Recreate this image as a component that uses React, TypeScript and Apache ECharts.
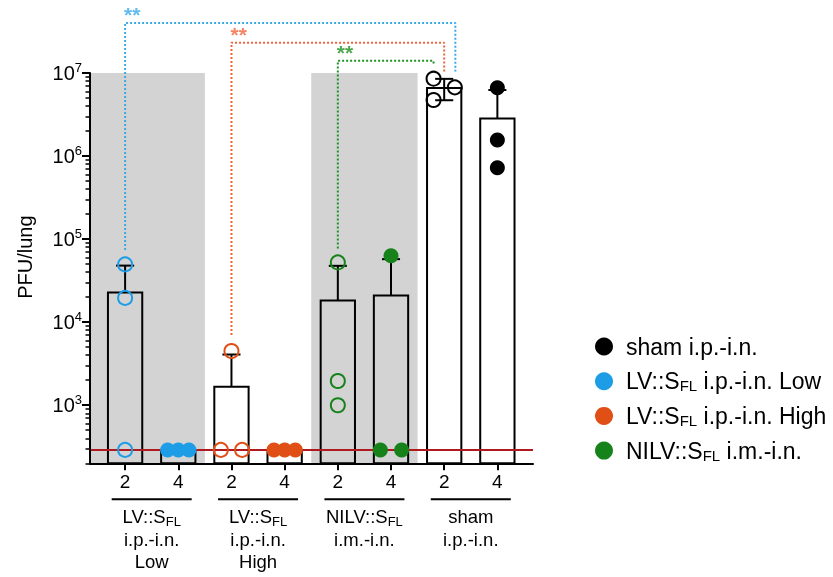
import React, { useEffect, useRef } from "react";
import * as echarts from "echarts";

const FONT = "'Liberation Sans', Arial, Helvetica, sans-serif";

// ---- data ----
const DAY_LABELS = ["2", "4", "2", "4", "2", "4", "2", "4"];
const GROUP_NAMES = [
  "LV::S_FL i.p.-i.n. Low",
  "LV::S_FL i.p.-i.n. High",
  "NILV::S_FL i.m.-i.n.",
  "sham i.p.-i.n.",
];
const GROUP_AXIS_LINES = [
  ["LV::S_FL", "i.p.-i.n.", "Low"],
  ["LV::S_FL", "i.p.-i.n.", "High"],
  ["NILV::S_FL", "i.m.-i.n."],
  ["sham", "i.p.-i.n."],
];
const LEGEND_ORDER = [3, 0, 1, 2];
const GROUP_COLORS = ["#1c9de6", "#e04f16", "#16821a", "#000000"];

const BAR_MEAN = [22800, 290, 1670, 290, 18200, 20900, 6600000, 2840000];
const BAR_SD = [25200, 0, 2410, 0, 29500, 36500, 1900000, 3400000];

const POINTS = [
  [49600, 19600, 290],
  [290, 290, 290],
  [4500, 290, 290],
  [290, 290, 290],
  [52400, 1960, 1000],
  [62900, 290, 290],
  [8540000, 6720000, 4730000],
  [6650000, 1560000, 723000],
];
const JITTER_SLOTS = [
  [0, 0, 0],
  [-1, 0, 1],
  [0, -1, 1],
  [-1, 0, 1],
  [0, 0, 0],
  [0, -1, 1],
  [-1, 1, -1],
  [0, 0, 0],
];
const LOD = 290;

const Y_MAJOR = [1e3, 1e4, 1e5, 1e6, 1e7];
const Y_MIN = 200;
const Y_MAX = 1e7;
const X_MIN = -0.66;
const X_MAX = 7.67;
const SHADED = [
  [X_MIN, 1.5],
  [3.5, 5.5],
];

const SIG = [
  { label: "**", color: "#3aaae9", from: 0, fromValue: 74000, to: 6.21, toValue: 1.04e7, top: 4.0e7 },
  { label: "**", color: "#f0643c", from: 2, fromValue: 7000, to: 6.0, toValue: 1.04e7, top: 2.32e7 },
  { label: "**", color: "#1f9222", from: 4, fromValue: 77000, to: 5.8, toValue: 1.25e7, top: 1.4e7 },
];

// ---- layout/style constants ----
const JIT = 0.2;
const BAR_W = 0.645;
const CAP_W = 0.34;

function minorTicks(): number[] {
  const out: number[] = [];
  for (let e = 2; e < 7; e++) {
    for (let m = 2; m <= 9; m++) {
      const v = m * Math.pow(10, e);
      if (v >= Y_MIN && v <= Y_MAX) out.push(v);
    }
  }
  return out;
}

function richName(s: string) {
  return s.replace("S_FL", "S{sub|FL}");
}

export default function App() {
  const ref = useRef<HTMLDivElement>(null);
  useEffect(() => {
    if (!ref.current) return;
    const chart = echarts.init(ref.current, undefined, { renderer: "svg" });

    const scatterSeries = GROUP_NAMES.map((name, g) => {
      const data: any[] = [];
      [2 * g, 2 * g + 1].forEach((bar) => {
        const open = bar % 2 === 0;
        POINTS[bar].forEach((v, k) => {
          data.push({
            value: [bar + JITTER_SLOTS[bar][k] * JIT, v],
            symbolSize: open ? 14 : 15,
            itemStyle: open
              ? { color: "transparent", borderColor: GROUP_COLORS[g], borderWidth: 2, opacity: 1 }
              : { color: GROUP_COLORS[g], borderWidth: 0, opacity: 1 },
          });
        });
      });
      return {
        type: "scatter",
        name,
        data,
        symbol: "circle",
        itemStyle: { color: GROUP_COLORS[g], opacity: 1 },
        z: 5,
        clip: false,
        silent: true,
      };
    });

    const option: any = {
      animation: false,
      grid: { left: 90, right: 300, top: 73, bottom: 113.7, containLabel: false, outerBoundsMode: "none" },
      legend: {
        data: LEGEND_ORDER.map((i) => GROUP_NAMES[i]),
        orient: "vertical",
        left: 595,
        top: 334.5,
        padding: 0,
        itemWidth: 18,
        itemHeight: 18,
        itemGap: 10.7,
        icon: "circle",
        selectedMode: false,
        itemStyle: { opacity: 1 },
        formatter: (name: string) => richName(name),
        textStyle: {
          fontSize: 23,
          fontFamily: FONT,
          color: "#000",
          lineHeight: 24,
          padding: [0, 0, 0, 8],
          rich: {
            sub: { fontSize: 15, fontFamily: FONT, color: "#000", lineHeight: 8, verticalAlign: "bottom" },
          },
        },
      },
      xAxis: {
        type: "value",
        min: X_MIN,
        max: X_MAX,
        z: 10,
        axisLine: { show: true, onZero: false, lineStyle: { color: "#000", width: 2 } },
        axisTick: { show: true, customValues: DAY_LABELS.map((_, i) => i), length: 7, lineStyle: { color: "#000", width: 2 } },
        axisLabel: {
          show: true,
          customValues: DAY_LABELS.map((_, i) => i),
          formatter: (v: number) => DAY_LABELS[Math.round(v)] ?? "",
          fontSize: 19,
          fontFamily: FONT,
          color: "#000",
          margin: 9,
        },
        splitLine: { show: false },
      },
      yAxis: [
        {
          type: "log",
          logBase: 10,
          min: Y_MIN,
          max: Y_MAX,
          z: 10,
          name: "PFU/lung",
          nameLocation: "middle",
          nameRotate: 90,
          nameGap: 55,
          nameTextStyle: { fontSize: 20, fontFamily: FONT, color: "#000", padding: [0, 0, 0, 22] },
          axisLine: { show: true, onZero: false, lineStyle: { color: "#000", width: 2 } },
          axisTick: { show: true, customValues: Y_MAJOR, length: 8, lineStyle: { color: "#000", width: 2 } },
          axisLabel: {
            show: true,
            customValues: Y_MAJOR,
            margin: 8,
            formatter: (v: number) => `{b|10}{s|${Math.round(Math.log10(v))}}`,
            rich: {
              b: { fontSize: 20, fontFamily: FONT, color: "#000", lineHeight: 24 },
              s: { fontSize: 13, fontFamily: FONT, color: "#000", lineHeight: 10, verticalAlign: "top" },
            },
          },
          splitLine: { show: false },
        },
        {
          type: "log",
          logBase: 10,
          min: Y_MIN,
          max: Y_MAX,
          position: "left",
          offset: 0,
          z: 10,
          axisLine: { show: false, onZero: false },
          axisTick: { show: true, customValues: minorTicks(), length: 4.5, lineStyle: { color: "#000", width: 1.5 } },
          axisLabel: { show: false },
          splitLine: { show: false },
        },
      ],
      series: [
        {
          type: "line",
          data: [],
          silent: true,
          z: 0,
          markArea: {
            silent: true,
            itemStyle: { color: "#d3d3d3" },
            data: SHADED.map(([a, b]) => [
              { xAxis: a, yAxis: Y_MIN },
              { xAxis: b, yAxis: Y_MAX },
            ]),
          },
        },
        {
          type: "custom",
          silent: true,
          z: 3,
          clip: false,
          encode: { x: 0, y: 1 },
          data: BAR_MEAN.map((m, i) => [i, m, BAR_SD[i]]),
          renderItem: (_params: any, api: any) => {
            const x = api.value(0) as number;
            const mean = api.value(1) as number;
            const sd = api.value(2) as number;
            const l = api.coord([x - BAR_W / 2, mean]);
            const r = api.coord([x + BAR_W / 2, mean]);
            const base = api.coord([x, Y_MIN]);
            const children: any[] = [];
            const ls = { stroke: "#000", lineWidth: 2 };
            if (sd > 0) {
              const up = api.coord([x, mean + sd]);
              const cl = api.coord([x - CAP_W / 2, mean + sd]);
              const cr = api.coord([x + CAP_W / 2, mean + sd]);
              children.push({ type: "line", shape: { x1: up[0], y1: l[1], x2: up[0], y2: up[1] }, style: ls });
              children.push({ type: "line", shape: { x1: cl[0], y1: cl[1], x2: cr[0], y2: cr[1] }, style: ls });
              if (mean - sd > Y_MIN) {
                const dn = api.coord([x, mean - sd]);
                const dl = api.coord([x - CAP_W / 2, mean - sd]);
                const dr = api.coord([x + CAP_W / 2, mean - sd]);
                children.push({ type: "line", shape: { x1: dn[0], y1: l[1], x2: dn[0], y2: dn[1] }, style: ls });
                children.push({ type: "line", shape: { x1: dl[0], y1: dl[1], x2: dr[0], y2: dr[1] }, style: ls });
              }
            }
            children.push({
              type: "rect",
              shape: { x: l[0], y: l[1], width: r[0] - l[0], height: base[1] - l[1] },
              style: { fill: "none", stroke: "#000", lineWidth: 2 },
            });
            return { type: "group", children };
          },
        },
        {
          type: "line",
          data: [],
          silent: true,
          z: 6,
          markLine: {
            silent: true,
            symbol: ["none", "none"],
            label: { show: false },
            lineStyle: { color: "#b0191e", width: 2, type: "solid" },
            data: [{ yAxis: LOD }],
          },
        },
        ...scatterSeries,
        ...SIG.map((s) => ({
          type: "line",
          silent: true,
          clip: false,
          symbol: "none",
          z: 7,
          lineStyle: { color: s.color, width: 2, type: [2, 2] },
          data: [
            [s.from, s.fromValue],
            [s.from, s.top],
            [s.to, s.top],
            [s.to, s.toValue],
          ],
        })),
        {
          type: "scatter",
          silent: true,
          clip: false,
          symbolSize: 0,
          z: 8,
          data: SIG.map((s) => ({
            value: [s.from, s.top],
            label: {
              show: true,
              formatter: s.label,
              position: [0, 0],
              align: "left",
              verticalAlign: "middle",
              offset: [-1, -8],
              fontSize: 21,
              fontWeight: "bold",
              fontFamily: FONT,
              color: s.color,
            },
          })),
        },
      ],
    };
    chart.setOption(option);

    // group labels under the x axis, placed through the axis scales
    const axisY = chart.convertToPixel({ yAxisIndex: 0 }, Y_MIN) as number;
    const graphics: any[] = [];
    GROUP_AXIS_LINES.forEach((lines, g) => {
      const cx = chart.convertToPixel({ xAxisIndex: 0 }, 2 * g + 0.5) as number;
      graphics.push({
        type: "line",
        shape: { x1: cx - 40, y1: axisY + 36, x2: cx + 40, y2: axisY + 36 },
        style: { stroke: "#000", lineWidth: 2 },
        silent: true,
      });
      graphics.push({
        type: "text",
        x: cx,
        y: axisY + 42,
        silent: true,
        style: {
          text: lines.map(richName).join("\n"),
          fontSize: 18.5,
          fontFamily: FONT,
          fill: "#000",
          align: "center",
          verticalAlign: "top",
          lineHeight: 22.5,
          rich: {
            sub: { fontSize: 13, fontFamily: FONT, fill: "#000", lineHeight: 11, verticalAlign: "bottom" },
          },
        },
      });
    });
    chart.setOption({ graphic: graphics });

    return () => chart.dispose();
  }, []);

  return <div ref={ref} style={{ position: "fixed", left: 0, top: 0, width: 833, height: 577 }} />;
}
